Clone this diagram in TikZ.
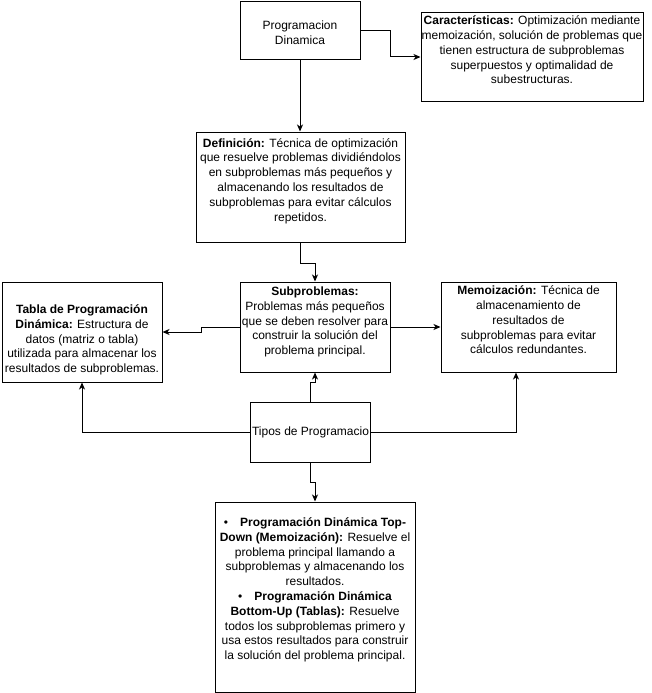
\documentclass[tikz,border=0pt]{standalone}
\usepackage{fontspec}
\setmainfont{Liberation Sans}
\usetikzlibrary{arrows.meta}

\begin{document}
\begin{tikzpicture}[
  x=1pt, y=-1pt,
  >={Stealth[length=7pt,width=6pt,inset=2pt]},
  box/.style={draw, line width=1pt, inner sep=0pt},
  txt/.style={align=center, font=\fontsize{12}{14.8}\selectfont, inner sep=0pt},
  link/.style={->, line width=1pt}
]
  \useasboundingbox (0,0) rectangle (651,693);

  % boxes
  \node[box, minimum width=120pt, minimum height=58pt] (prog) at (300,31) {};
  \node[box, minimum width=222pt, minimum height=89pt] (caract) at (532,57) {};
  \node[box, minimum width=209pt, minimum height=110pt] (def) at (300.5,187) {};
  \node[box, minimum width=150pt, minimum height=90pt] (sub) at (315,327) {};
  \node[box, minimum width=160pt, minimum height=100pt] (tabla) at (82,332) {};
  \node[box, minimum width=175pt, minimum height=90pt] (memo) at (528.5,327) {};
  \node[box, minimum width=120pt, minimum height=60pt] (tipos) at (310.5,432) {};
  \node[box, minimum width=200pt, minimum height=190pt] (tiposlist) at (315,597) {};

  % texts
  \node[txt] (progtxt) at (300,33) {Programacion\\Dinamica};
  \node[txt] (caracttxt) at (532,50) {\textbf{Características:} Optimización mediante\\memoización, solución de problemas que\\tienen estructura de subproblemas\\superpuestos y optimalidad de\\subestructuras.};
  \node[txt] (deftxt) at (300.5,181) {\textbf{Definición:} Técnica de optimización\\que resuelve problemas dividiéndolos\\en subproblemas más pequeños y\\almacenando los resultados de\\subproblemas para evitar cálculos\\repetidos.};
  \node[txt] (subtxt) at (315,322) {\textbf{Subproblemas:}\\Problemas más pequeños\\que se deben resolver para\\construir la solución del\\problema principal.};
  \node[txt] (tablatxt) at (82,340) {\textbf{Tabla de Programación}\\\textbf{Dinámica:} Estructura de\\datos (matriz o tabla)\\utilizada para almacenar los\\resultados de subproblemas.};
  \node[txt] (memotxt) at (528.5,320) {\textbf{Memoización:} Técnica de\\almacenamiento de\\resultados de\\subproblemas para evitar\\cálculos redundantes.};
  \node[txt] (tipostxt) at (310.5,432) {Tipos de Programacio};
  \node[txt] (tiposlisttxt) at (315,590) {•\quad\textbf{Programación Dinámica Top-}\\\textbf{Down (Memoización):} Resuelve el\\problema principal llamando a\\subproblemas y almacenando los\\resultados.\\•\quad\textbf{Programación Dinámica}\\\textbf{Bottom-Up (Tablas):} Resuelve\\todos los subproblemas primero y\\usa estos resultados para construir\\la solución del problema principal.};

  % connectors
  \draw[link] (prog.south) -- (prog.south |- def.north);
  \draw[link] (prog.east) -- ++(30,0) |- (caract.west);
  \draw[link] (def.south) -- ++(0,21) -| (sub.north);
  \draw[link] (sub.west) -- ++(-38,0) |- (tabla.east);
  \draw[link] (sub.east) -- (sub.east -| memo.west);
  \draw[link] (tipos.north) -- ++(0,-19) -| (sub.south);
  \draw[link] (tipos.west) -| (tabla.south);
  \draw[link] (tipos.east) -| ([xshift=-12.5pt]memo.south);
  \draw[link] (tipos.south) -- ++(0,20) -| (tiposlist.north);
\end{tikzpicture}
\end{document}
